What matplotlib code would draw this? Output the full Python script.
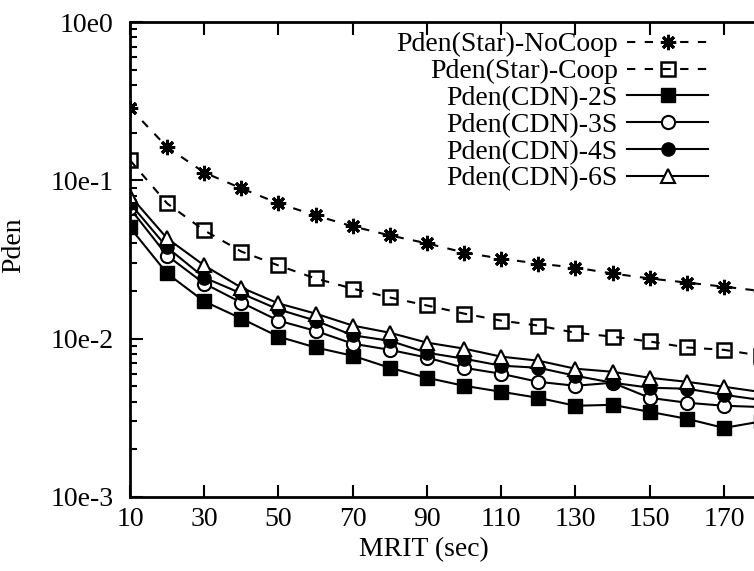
import matplotlib
matplotlib.use('Agg')
import matplotlib.pyplot as plt
from matplotlib.ticker import LogLocator, NullFormatter

plt.rcParams['font.family'] = ['Liberation Serif', 'DejaVu Serif']

mrit = [10, 20, 30, 40, 50, 60, 70, 80, 90, 100, 110, 120, 130, 140, 150, 160, 170, 180]
star_nocoop = [0.286, 0.162, 0.112, 0.089, 0.0715, 0.060, 0.0512, 0.0449, 0.040, 0.035,
               0.032, 0.0298, 0.0281, 0.0258, 0.024, 0.0226, 0.0213, 0.020]
star_coop = [0.134, 0.0715, 0.0483, 0.0355, 0.029, 0.024, 0.0207, 0.0182, 0.0162, 0.0144,
             0.0130, 0.0121, 0.0109, 0.0103, 0.0096, 0.0088, 0.0085, 0.0078]
cdn_2s = [0.0504, 0.0258, 0.0172, 0.0134, 0.0103, 0.0088, 0.0078, 0.00655, 0.00566, 0.00504,
          0.00462, 0.00423, 0.00377, 0.00382, 0.00345, 0.00312, 0.00273, 0.0030]
cdn_3s = [0.0665, 0.0335, 0.0223, 0.0169, 0.013, 0.0112, 0.0093, 0.0085, 0.0076, 0.00655,
          0.0060, 0.00534, 0.00504, 0.00527, 0.00423, 0.00394, 0.00377, 0.0037]
cdn_4s = [0.0715, 0.0377, 0.0243, 0.0193, 0.0153, 0.013, 0.0105, 0.0097, 0.00815, 0.00747,
          0.00675, 0.00655, 0.00583, 0.00527, 0.0049, 0.00483, 0.00442, 0.0041]
cdn_6s = [0.080, 0.043, 0.029, 0.021, 0.0167, 0.0144, 0.0121, 0.0109, 0.00944, 0.00865,
          0.0077, 0.00726, 0.00646, 0.00618, 0.00566, 0.00534, 0.00497, 0.0046]

xticks = [10, 30, 50, 70, 90, 110, 130, 150, 170]
yticks = [1, 0.1, 0.01, 0.001]
ytick_labels = ['10e0', '10e-1', '10e-2', '10e-3']

fig = plt.figure(figsize=(7.54, 5.71), dpi=100)
# plot area runs past the right edge, as in the cropped original
ax = fig.add_axes([130/754, 1 - 497/571, 631/754, 475/571])

lw = 1.5
dash = (4, 4.5)
ax.plot(mrit, star_nocoop, color='k', lw=lw, dashes=dash, marker=(8, 2, 0), ms=11, mew=2.2,
        label='Pden(Star)-NoCoop')
ax.plot(mrit, star_coop, color='k', lw=lw, dashes=dash, marker='s', ms=10, mew=1.8,
        mfc='none', label='Pden(Star)-Coop')
ax.plot(mrit, cdn_2s, color='k', lw=lw, marker='s', ms=9.5, label='Pden(CDN)-2S')
ax.plot(mrit, cdn_3s, color='k', lw=lw, marker='o', ms=9.5, mew=1.5, mfc='white',
        label='Pden(CDN)-3S')
ax.plot(mrit, cdn_4s, color='k', lw=lw, marker='o', ms=9.5, label='Pden(CDN)-4S')
ax.plot(mrit, cdn_6s, color='k', lw=lw, marker='^', ms=10, mew=1.5, mfc='white',
        label='Pden(CDN)-6S')

ax.set_yscale('log')
ax.set_xlim(10, 180)
ax.set_ylim(0.001, 1)
ax.set_xticks(xticks)
ax.set_yticks(yticks)
ax.set_yticklabels(ytick_labels)
ax.yaxis.set_minor_locator(LogLocator(base=10, subs=range(2, 10)))
ax.yaxis.set_minor_formatter(NullFormatter())

ax.tick_params(which='both', direction='in', top=True, right=False, width=1.5,
               labelsize=20)
ax.tick_params(which='major', length=9)
ax.tick_params(which='minor', length=5)
ax.tick_params(axis='y', pad=12)
ax.tick_params(axis='x', pad=7)
for s in ax.spines.values():
    s.set_linewidth(2)

ax.set_xlabel('MRIT (sec)', fontsize=20)
ax.set_ylabel('Pden', fontsize=20)
ax.xaxis.set_label_coords(0.465, -0.085)
ax.yaxis.set_label_coords(-0.165, 0.53)

ax.legend(loc='upper right', bbox_to_anchor=(578/631, 1 - 10/475), frameon=False,
          markerfirst=False, fontsize=20, handlelength=2.9, handletextpad=0.35,
          labelspacing=0.05, borderpad=0, borderaxespad=0)

fig.savefig('out.png', dpi=100)
